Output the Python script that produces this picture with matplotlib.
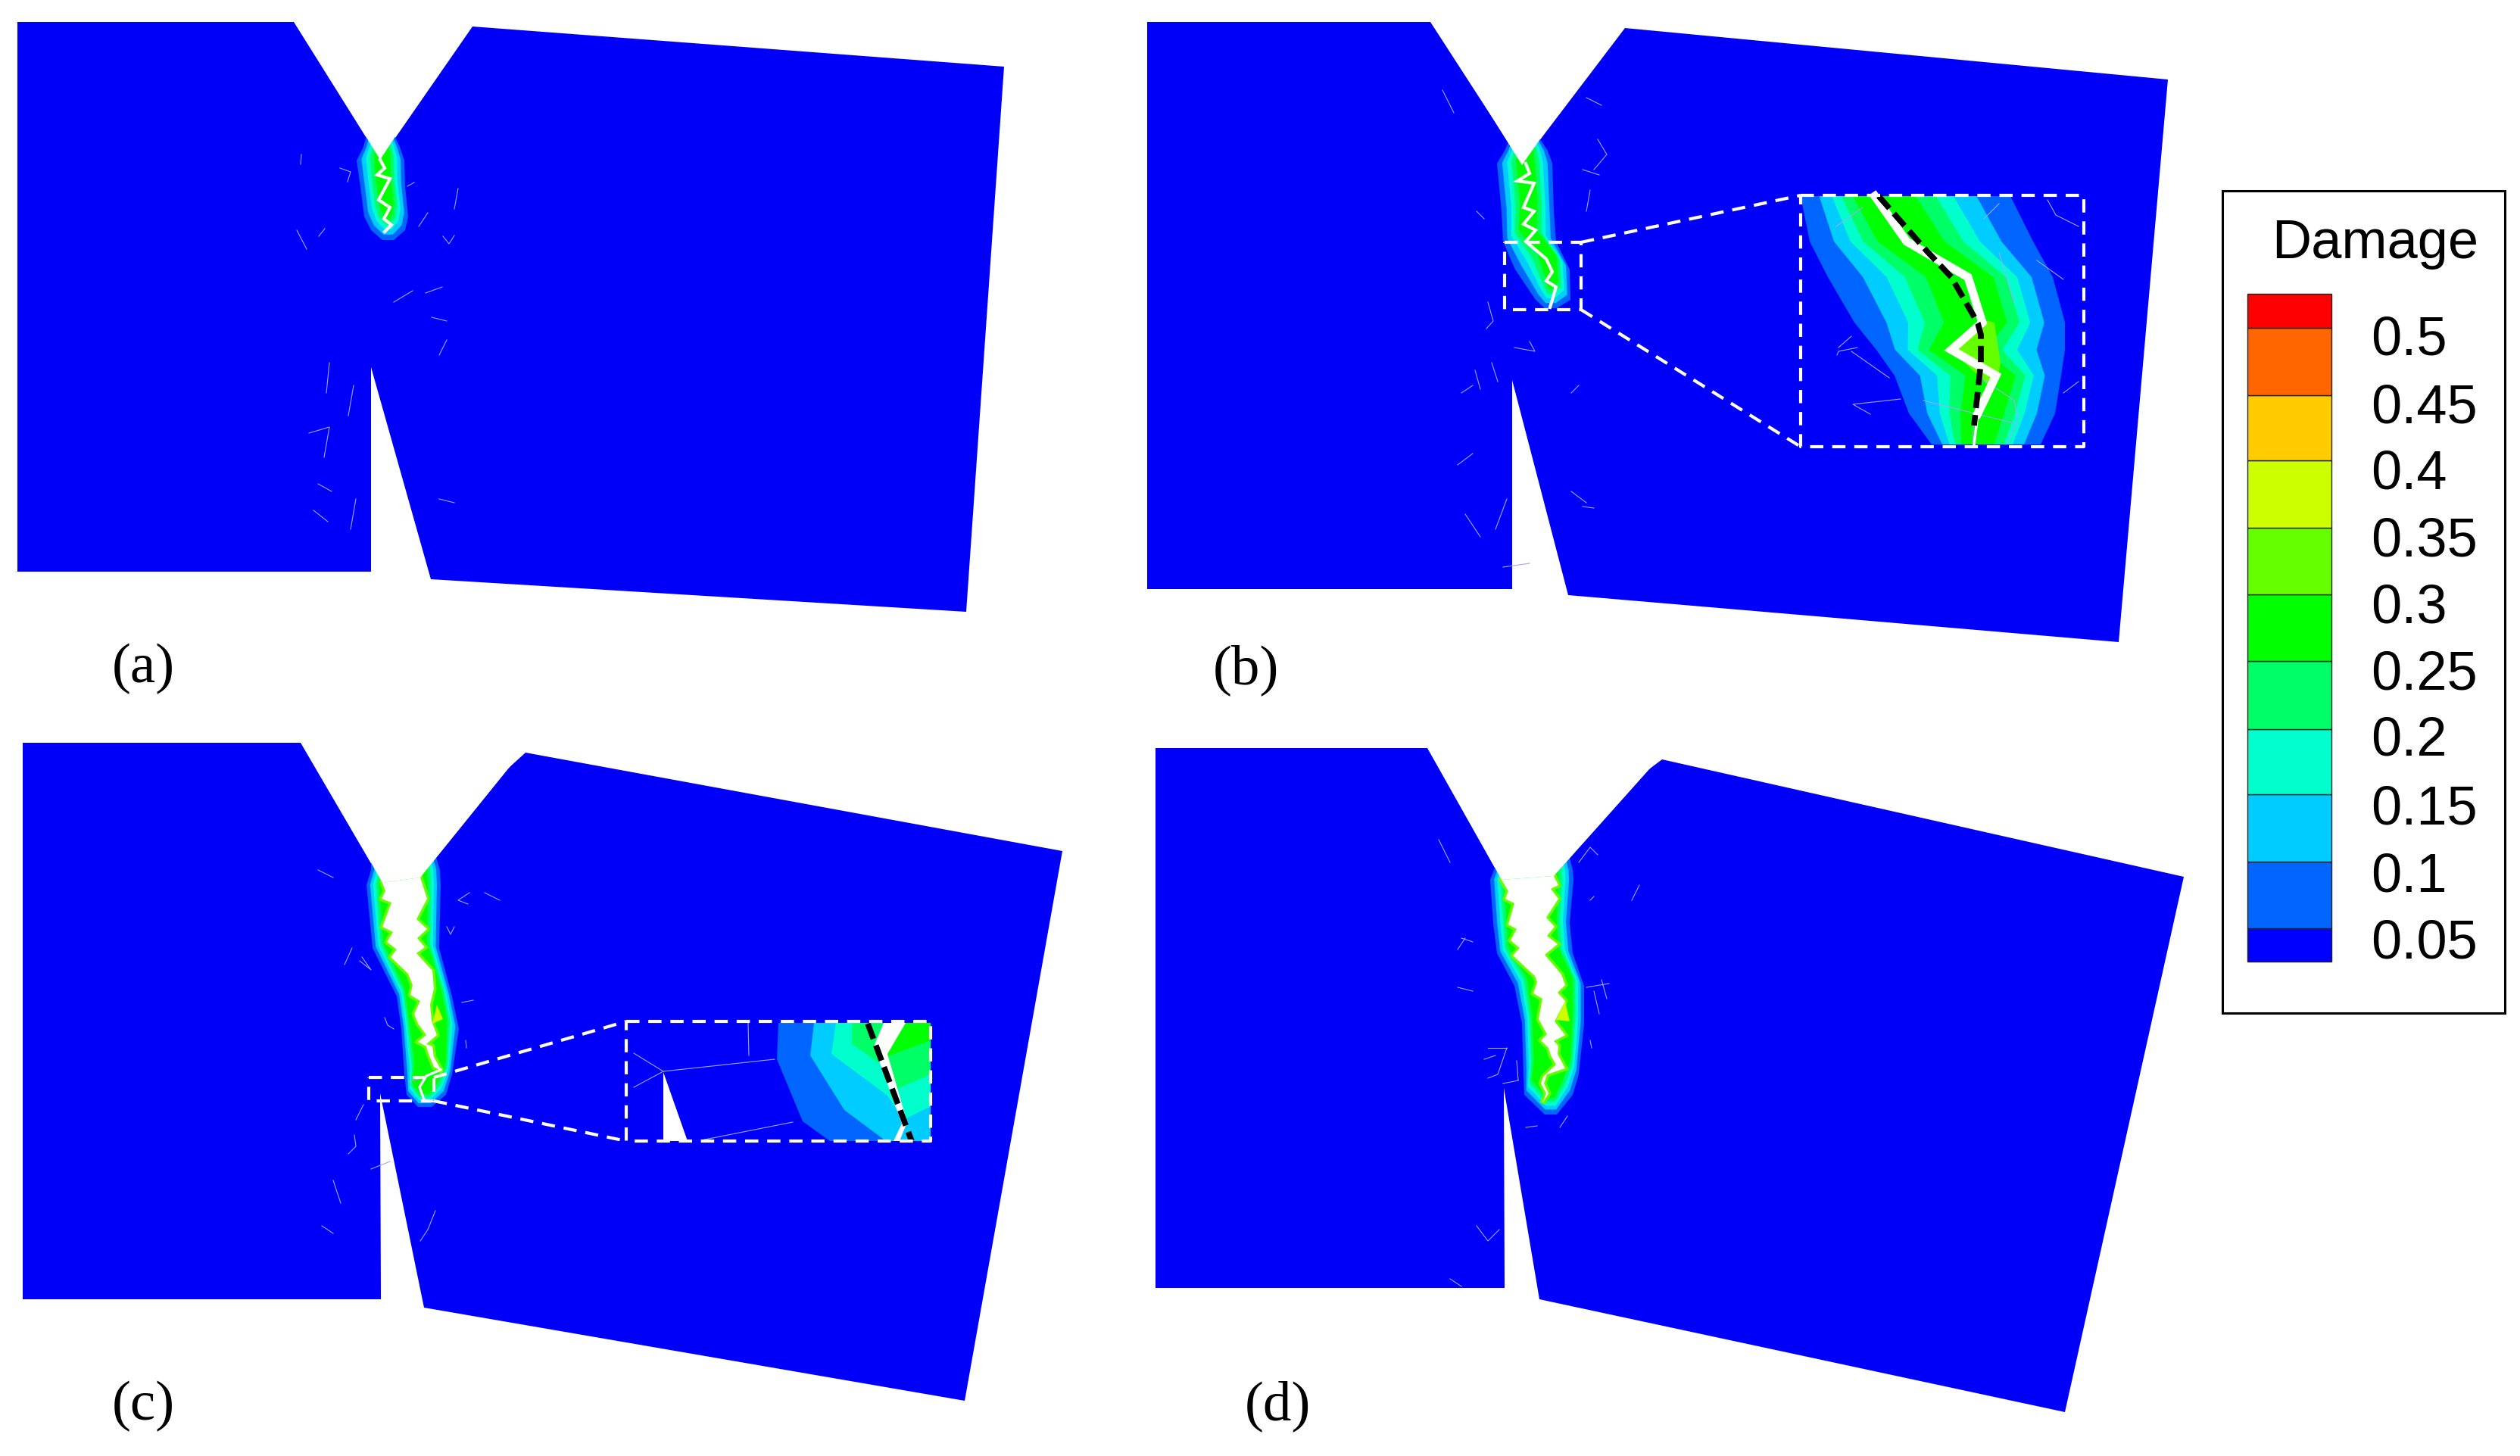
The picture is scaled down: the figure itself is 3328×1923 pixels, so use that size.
import numpy as np
import matplotlib
matplotlib.use('Agg')
import matplotlib.pyplot as plt

# colours of the damage levels, low to high
level_labels = ['0.05', '0.1', '0.15', '0.2', '0.25', '0.3', '0.35', '0.4', '0.45', '0.5']
level_colors = ['#0000ff', '#0066ff', '#00ccff', '#00ffcc', '#00ff66', '#00ff00',
                '#66ff00', '#ccff00', '#ffcc00', '#ff6600', '#ff0000']
bar_edges = [1271, 1227, 1139, 1050, 964, 874, 786, 698, 609, 523, 434, 389]
label_y = [1247, 1159, 1070, 979, 892, 804, 716, 627, 540, 450]

# specimen outlines (image pixels)
body_a = [(23, 30), (388, 30), (502, 212), (624, 36), (1326, 89), (1276, 809), (569, 766), (490, 486), (490, 756), (23, 756)]
body_b = [(1515, 30), (1889, 30), (2010, 217), (2146, 38), (2863, 106), (2798, 849), (2071, 787), (1997, 503), (1997, 779), (1515, 779)]
body_c = [(30, 982), (397, 982), (505, 1167), (694, 995), (1403, 1125), (1274, 1851), (560, 1728), (502, 1445), (503, 1717), (30, 1717)]
body_d = [(1526, 989), (1885, 989), (1983, 1163), (2195, 1004), (2884, 1159), (2727, 1866), (2033, 1717), (1986, 1438), (1987, 1702), (1526, 1702)]

notch_a = [(388, 25), (502, 212), (624, 25)]
notch_b = [(1889, 25), (2010, 219), (2146, 25)]
notch_c = [(397, 975), (505, 1167), (555, 1160), (694, 988)]
notch_d = [(1885, 984), (1983, 1163), (2052, 1158), (2195, 998)]

# damage zones: row y, outer left, centre, outer right
a_y = [180, 195, 213, 247, 287, 305, 318]
a_l = [484, 480, 471, 476, 481, 490, 505]
a_c = [505, 505, 506, 506, 510, 510, 513]
a_r = [521, 528, 534, 535, 539, 535, 520]

b_y = [185, 200, 217, 280, 320, 357, 397, 408]
b_l = [1994, 1987, 1977, 1983, 1985, 2001, 2028, 2040]
b_c = [2015, 2015, 2015, 2020, 2016, 2046, 2050, 2047]
b_r = [2034, 2044, 2050, 2052, 2055, 2073, 2074, 2056]

c_y = [1130, 1150, 1170, 1253, 1317, 1360, 1420, 1447, 1463]
c_l = [490, 490, 484, 492, 524, 530, 534, 537, 552]
c_c = [532, 532, 532, 534, 555, 560, 573, 558, 559]
c_r = [575, 581, 582, 580, 597, 606, 597, 589, 570]

d_y = [1130, 1150, 1163, 1220, 1260, 1303, 1353, 1420, 1447, 1473]
d_l = [1980, 1973, 1968, 1972, 1977, 2000, 2010, 2012, 2013, 2040]
d_c = [2020, 2020, 2020, 2023, 2020, 2047, 2048, 2052, 2040, 2047]
d_r = [2072, 2077, 2078, 2073, 2077, 2092, 2092, 2085, 2077, 2056]

# crack paths
crack_a_x = [502, 508, 498, 515, 500, 515, 507, 517, 508]
crack_a_y = [212, 223, 232, 237, 265, 275, 290, 298, 307]
crack_b_x = [2015, 2020, 2004, 2026, 2012, 2026, 2012, 2028, 2015, 2042, 2050, 2042, 2055, 2047]
crack_b_y = [217, 230, 240, 243, 275, 280, 297, 305, 320, 343, 360, 372, 380, 407]

open_c_x = [505, 509, 504, 517, 505, 519, 511, 524, 516, 539, 545, 542, 555, 547, 552, 563, 552, 563, 566, 573, 582,
            582, 573, 571, 563, 577, 570, 568, 573, 571, 550, 561, 551, 564, 550, 564, 555]
open_c_y = [1167, 1178, 1188, 1193, 1225, 1232, 1245, 1255, 1265, 1287, 1302, 1315, 1323, 1340, 1353, 1368, 1377, 1383, 1393, 1410, 1415,
            1413, 1397, 1383, 1380, 1368, 1350, 1328, 1307, 1283, 1260, 1252, 1240, 1228, 1215, 1188, 1160]
tail_c_x = [582, 563, 554, 560]
tail_c_y = [1414, 1422, 1437, 1453]
patch_c_x = [577, 585, 571]
patch_c_y = [1328, 1347, 1353]

open_d_x = [1983, 1992, 1988, 2000, 1992, 2003, 1995, 2007, 1998, 2027, 2030, 2025, 2037, 2032, 2043, 2035, 2045, 2048, 2055, 2038, 2035, 2042, 2037,
            2045, 2039, 2043, 2067, 2057, 2058, 2052, 2067, 2053, 2067, 2057, 2067, 2062, 2040, 2057, 2043, 2053, 2042, 2058, 2048, 2058, 2052]
open_d_y = [1163, 1178, 1188, 1194, 1222, 1228, 1243, 1253, 1263, 1290, 1298, 1313, 1320, 1347, 1367, 1375, 1385, 1395, 1407, 1423, 1432, 1445, 1458,
            1445, 1432, 1420, 1412, 1393, 1382, 1376, 1368, 1350, 1323, 1312, 1302, 1288, 1262, 1248, 1237, 1225, 1213, 1188, 1175, 1170, 1158]
patch_d_x = [2067, 2073, 2055]
patch_d_y = [1323, 1350, 1348]

# (b) enlarged view
ib_box = (2378, 259, 2752, 591)
ib_small = (1987, 321, 2088, 410)
ib_y = [260, 320, 367, 427, 463, 497, 547, 588]
ib_l = [2378, 2390, 2414, 2449, 2478, 2502, 2521, 2551]
ib_c = [2476, 2518, 2599, 2618, 2577, 2636, 2618, 2607]
ib_r = [2655, 2685, 2711, 2727, 2727, 2722, 2714, 2695]
ib_patch_x = [2618, 2634, 2642, 2639, 2626, 2577]
ib_patch_y = [423, 427, 480, 497, 510, 463]
ib_crack_x = [2476, 2518, 2599, 2618, 2577, 2636, 2612]
ib_crack_y = [260, 320, 367, 427, 463, 497, 547]
ib_tail_x = [2612, 2607]
ib_tail_y = [547, 588]
ib_black_x = [2481, 2545, 2577, 2612, 2616, 2616, 2607]
ib_black_y = [260, 333, 367, 428, 443, 480, 563]

# (c) enlarged view: zones clipped by the frame
ic_box = (827, 1350, 1229, 1508)
ic_small = (487, 1424, 573, 1455)
ic_zones = [
    ('#0066ff', [1028, 1026, 1060, 1096, 1229, 1229], [1352, 1400, 1482, 1508, 1508, 1352]),
    ('#00ccff', [1075, 1070, 1115, 1170, 1229, 1229], [1352, 1395, 1467, 1508, 1508, 1352]),
    ('#00ffcc', [1104, 1098, 1172, 1193, 1229, 1229], [1352, 1393, 1448, 1480, 1462, 1352]),
    ('#00ff66', [1125, 1125, 1172, 1183, 1229, 1229], [1352, 1380, 1413, 1440, 1420, 1352]),
    ('#00ff00', [1167, 1170, 1229, 1229], [1352, 1397, 1375, 1352]),
]
ic_wedge_x = [876, 876, 908]
ic_wedge_y = [1417, 1508, 1508]
ic_crack_x = [1167, 1196, 1172, 1198, 1188, 1180, 1191, 1154]
ic_crack_y = [1352, 1352, 1393, 1483, 1508, 1508, 1485, 1383]
ic_black_x = [1146, 1204]
ic_black_y = [1353, 1508]

# thin broken-element lines
thin_a = [[(449, 223), (463, 228), (459, 241)], [(421, 313), (429, 303)], [(605, 250), (600, 277)], [(565, 282), (553, 300)],
          [(585, 313), (593, 323), (600, 312)], [(538, 247), (547, 242)], [(398, 205), (397, 218)], [(584, 380), (562, 388)],
          [(467, 510), (460, 550)], [(408, 573), (435, 565), (428, 605)], [(414, 675), (433, 690)], [(420, 640), (438, 650)],
          [(435, 480), (431, 520)], [(570, 420), (590, 425)], [(520, 400), (545, 385)], [(590, 450), (580, 470)],
          [(470, 660), (463, 700)], [(405, 330), (392, 305)], [(580, 660), (600, 665)]]
thin_b = [[(2110, 185), (2122, 205), (2105, 225)], [(2090, 225), (2112, 232)], [(2100, 252), (2095, 280)], [(1950, 280), (1960, 290)],
          [(1965, 400), (1972, 425), (1963, 435)], [(2020, 452), (2027, 465), (2000, 460)], [(1948, 490), (1955, 515)], [(1970, 480), (1978, 505)],
          [(1930, 520), (1945, 510)], [(2075, 520), (2085, 510)], [(1945, 600), (1925, 615)], [(2020, 745), (1985, 750)], [(1935, 680), (1955, 710)],
          [(2075, 650), (2095, 665)], [(1905, 120), (1920, 150)], [(2095, 130), (2115, 140)], [(1990, 660), (1975, 700)], [(2090, 670), (2105, 672)]]
thin_ib = [[(2460, 275), (2425, 300)], [(2453, 460), (2428, 465), (2426, 470)], [(2445, 445), (2428, 460)], [(2495, 500), (2445, 465)],
           [(2510, 528), (2447, 535), (2470, 548)], [(2704, 265), (2715, 285), (2745, 300)], [(2690, 345), (2725, 370)], [(2725, 520), (2745, 505)],
           [(2616, 500), (2660, 530), (2665, 555), (2650, 588)], [(2605, 585), (2607, 550)], [(2540, 530), (2660, 560)], [(2620, 290), (2640, 270)],
           [(2640, 335), (2660, 400)]]
thin_c = [[(620, 1180), (605, 1190), (618, 1195)], [(640, 1180), (660, 1190)], [(590, 1225), (595, 1235), (600, 1225)], [(465, 1253), (455, 1275)],
          [(478, 1265), (490, 1282), (475, 1270)], [(610, 1325), (625, 1322)], [(508, 1345), (512, 1355), (520, 1360)], [(615, 1375), (616, 1385)],
          [(468, 1500), (470, 1515), (460, 1525)], [(515, 1535), (490, 1545)], [(575, 1600), (565, 1625), (555, 1640)], [(425, 1620), (440, 1630)],
          [(420, 1150), (440, 1160)], [(540, 1430), (555, 1425)], [(440, 1560), (450, 1590)], [(480, 1460), (470, 1480)]]
thin_d = [[(2085, 1140), (2100, 1120), (2110, 1130)], [(2100, 1190), (2105, 1185)], [(2165, 1170), (2155, 1190)], [(1930, 1240), (1945, 1245)],
          [(1925, 1255), (1935, 1240)], [(2095, 1305), (2125, 1300)], [(2115, 1295), (2122, 1320)], [(2105, 1310), (2112, 1340)], [(1925, 1305), (1945, 1310)],
          [(1965, 1385), (1990, 1385)], [(1960, 1400), (1975, 1395)], [(1965, 1425), (1978, 1420), (1990, 1385)], [(2003, 1402), (2005, 1428)],
          [(1985, 1432), (2005, 1428)], [(2100, 1375), (2102, 1385)], [(1900, 1110), (1915, 1140)], [(1950, 1620), (1965, 1640), (1980, 1625)],
          [(2060, 1490), (2070, 1475)], [(2015, 1490), (2030, 1488)], [(1915, 1690), (1930, 1700)]]

panel_names = ['(a)', '(b)', '(c)', '(d)']
panel_x = [189, 1645, 189, 1687]
panel_y = [883, 885, 1857, 1857]

main_fracs = [0, 0.18, 0.35, 0.5, 0.66]
open_fracs = [0, 0.10, 0.18, 0.26, 0.34]
ib_fracs = [0, 0.25, 0.42, 0.55, 0.7]
band_colors = ['#0066ff', '#00ccff', '#00ffcc', '#00ff66', '#00ff00']
BLUE = '#0000fa'
THIN = '#9ca8ff'

fig = plt.figure(figsize=(33.28, 19.24), dpi=100, facecolor='white')
ax = fig.add_axes([0, 0, 1, 1])
ax.set_xlim(0, 3328)
ax.set_ylim(1924, 0)
ax.axis('off')


def fill_poly(pts, color, z=1):
    xs, ys = zip(*pts)
    ax.fill(xs, ys, color=color, lw=0, zorder=z)


def draw_zone(y, l, c, r, fracs, lift=0):
    # nested bands, each one pulled in from the edge and up from the tip
    y, l, c, r = map(lambda v: np.array(v, dtype=float), (y, l, c, r))
    weight = (y - y[0]) / (y[-1] - y[0])
    for f, col in zip(fracs, band_colors):
        xl = l + f * (c - l)
        xr = r - f * (r - c)
        yk = y - f * lift * weight
        ax.fill(np.concatenate([xl, xr[::-1]]), np.concatenate([yk, yk[::-1]]), color=col, lw=0, zorder=2)


def draw_thin(groups, z=3):
    for g in groups:
        xs, ys = zip(*g)
        ax.plot(xs, ys, color=THIN, lw=0.8, zorder=z)


def dashed(xs, ys, z=8):
    ax.plot(xs, ys, color='white', lw=3.0, ls=(0, (4.2, 2.8)), zorder=z)


def dashed_box(box, z=8):
    x0, y0, x1, y1 = box
    dashed([x0, x1, x1, x0, x0], [y0, y0, y1, y1, y0], z)


# specimens
for body in (body_a, body_b, body_c, body_d):
    fill_poly(body, BLUE)

draw_zone(a_y, a_l, a_c, a_r, main_fracs, 40)
draw_zone(b_y, b_l, b_c, b_r, main_fracs, 38)
draw_zone(c_y, c_l, c_c, c_r, open_fracs, 50)
draw_zone(d_y, d_l, d_c, d_r, open_fracs, 65)

for t in (thin_a, thin_b, thin_c, thin_d):
    draw_thin(t)

for notch in (notch_a, notch_b, notch_c, notch_d):
    fill_poly(notch, 'white', 4)

ax.plot(crack_a_x, crack_a_y, color='white', lw=3.0, zorder=5, solid_joinstyle='miter')
ax.plot(crack_b_x, crack_b_y, color='white', lw=3.0, zorder=5, solid_joinstyle='miter')

# opened cracks with the bright teeth beside them
for ox, oy in ((open_c_x, open_c_y), (open_d_x, open_d_y)):
    ax.plot(ox, oy, color='#66ff00', lw=5, zorder=3, solid_joinstyle='miter')
    ax.fill(ox, oy, color='white', lw=0, zorder=5)
ax.fill(patch_c_x, patch_c_y, color='#ccff00', lw=0, zorder=4)
ax.fill(patch_d_x, patch_d_y, color='#ccff00', lw=0, zorder=4)
ax.plot(tail_c_x, tail_c_y, color='white', lw=2.4, zorder=5)

# (b) enlarged view
draw_zone(ib_y, ib_l, ib_c, ib_r, ib_fracs)
ax.fill(ib_patch_x, ib_patch_y, color='#66ff00', lw=0, zorder=3)
draw_thin(thin_ib, 3)
ax.plot(ib_crack_x, ib_crack_y, color='white', lw=8, zorder=5, solid_joinstyle='miter')
ax.plot(ib_tail_x, ib_tail_y, color='white', lw=2.5, zorder=5)
ax.plot(ib_black_x, ib_black_y, color='black', lw=5.5, ls=(0, (2.8, 1.2)), zorder=6)
dashed_box(ib_box)
dashed_box(ib_small)
dashed([ib_small[2], ib_box[0]], [ib_small[1], ib_box[1]])
dashed([ib_small[2], ib_box[0]], [ib_small[3], ib_box[3]])

# (c) enlarged view
for col, zx, zy in ic_zones:
    ax.fill(zx, zy, color=col, lw=0, zorder=2)
ax.fill(ic_wedge_x, ic_wedge_y, color='white', lw=0, zorder=5)
ax.fill(ic_crack_x, ic_crack_y, color='white', lw=0, zorder=5)
ax.plot(ic_black_x, ic_black_y, color='black', lw=5.5, ls=(0, (2.8, 1.2)), zorder=6)
draw_thin([[(837, 1392), (876, 1416), (837, 1437)], [(876, 1416), (1023, 1400)], [(988, 1352), (989, 1395)], [(926, 1507), (1047, 1483)]])
dashed_box(ic_box)
dashed_box(ic_small)
dashed([ic_small[2], ic_box[0]], [ic_small[1], ic_box[1]])
dashed([ic_small[2], ic_box[0]], [ic_small[3], ic_box[3]])

for name, px, py in zip(panel_names, panel_x, panel_y):
    ax.text(px, py, name, family='Liberation Serif', fontsize=54, ha='center', va='center', color='black')

# legend
ax.fill([2935, 3308, 3308, 2935], [253, 253, 1339, 1339], facecolor='white', edgecolor='black', lw=2.2, zorder=1)
for i, col in enumerate(level_colors):
    ax.fill([2968, 3079, 3079, 2968], [bar_edges[i], bar_edges[i], bar_edges[i + 1], bar_edges[i + 1]],
            facecolor=col, edgecolor='#202020', lw=1.0, zorder=2)
for lab, ly in zip(level_labels, label_y):
    ax.text(3131, ly, lab, family='Liberation Sans', fontsize=52, ha='left', va='center', color='black')
ax.text(3000, 322, 'Damage', family='Liberation Sans', fontsize=52, ha='left', va='center', color='black')

fig.savefig('out.png', dpi=100)
